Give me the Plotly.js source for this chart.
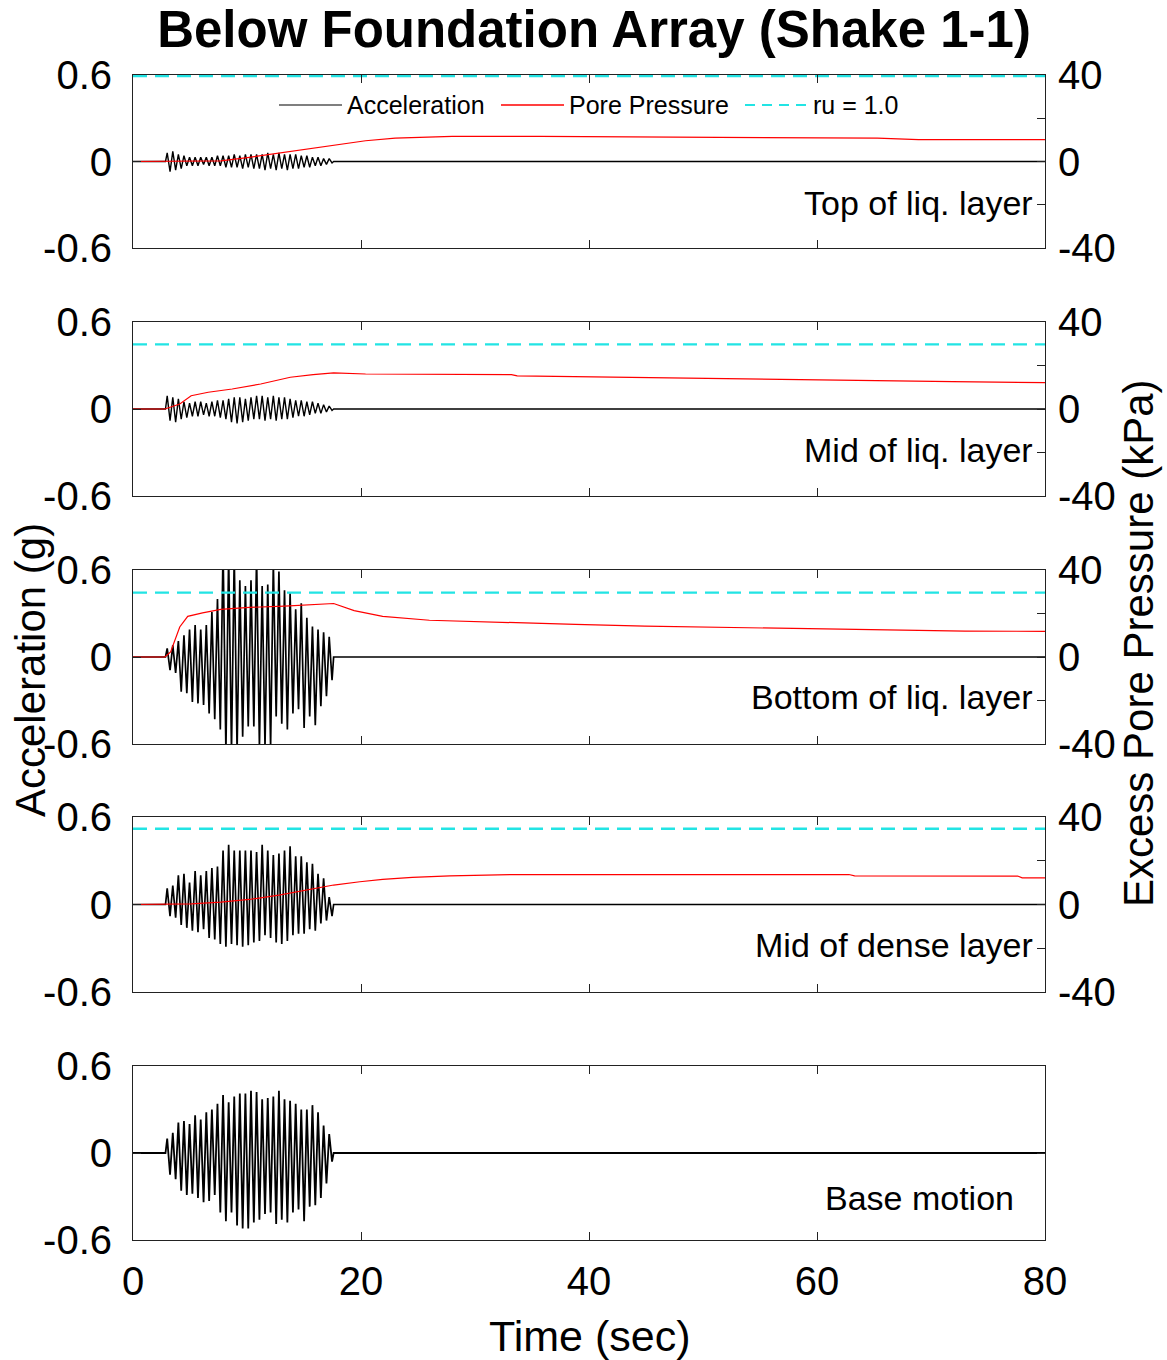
<!DOCTYPE html>
<html>
<head>
<meta charset="utf-8">
<script src="https://cdn.plot.ly/plotly-3.0.1.min.js"></script>
<style>html,body{margin:0;padding:0;background:#fff;}#chart{width:1167px;height:1360px;}</style>
</head>
<body>
<div id="chart"></div>
<script>
// ---------------- DATA ----------------
const panelLabels = ["Top of liq. layer", "Mid of liq. layer", "Bottom of liq. layer", "Mid of dense layer", "Base motion"];
const xTicks = [0, 20, 40, 60, 80];
const accTicks = [-0.6, 0, 0.6];
const accTickText = ["-0.6", "0", "0.6"];
const ppTicks = [-40, -20, 0, 20, 40];
const ppTickText = ["-40", "", "0", "", "40"];
const legendNames = ["Acceleration", "Pore Pressure", "ru = 1.0"];

// times of acceleration peaks (s), alternating positive / negative peaks
const peakTimes = [3.00,3.25,3.49,3.74,3.98,4.23,4.47,4.72,4.96,5.21,
                   5.45,5.70,5.94,6.19,6.43,6.68,6.92,7.17,7.41,7.66,
                   7.90,8.15,8.39,8.64,8.88,9.13,9.37,9.62,9.86,10.11,
                   10.35,10.60,10.84,11.09,11.33,11.58,11.82,12.07,12.31,12.56,
                   12.80,13.05,13.29,13.54,13.78,14.03,14.27,14.52,14.76,15.01,
                   15.25,15.50,15.74,15.99,16.23,16.48,16.72,16.97,17.21,17.46];
const quietBefore = [0, 2.85];
const quietAfter = [17.6, 80];

// acceleration peaks (g) per cycle
const accTopPos = [0.06,0.07,0.05,0.04,0.03,0.03,0.03,0.03,0.03,0.04,0.04,0.04,0.05,0.04,0.05,0.05,0.05,0.05,0.06,0.05,0.06,0.05,0.05,0.05,0.04,0.04,0.03,0.03,0.02,0.02];
const accTopNeg = [-0.07,-0.06,-0.05,-0.03,-0.03,-0.03,-0.02,-0.03,-0.03,-0.03,-0.04,-0.04,-0.04,-0.05,-0.04,-0.05,-0.05,-0.06,-0.05,-0.06,-0.05,-0.06,-0.05,-0.05,-0.04,-0.04,-0.03,-0.03,-0.02,-0.01];
const accMidPos = [0.09,0.08,0.07,0.05,0.04,0.05,0.05,0.04,0.05,0.06,0.06,0.07,0.08,0.08,0.07,0.08,0.09,0.09,0.08,0.09,0.08,0.08,0.07,0.06,0.06,0.05,0.05,0.04,0.03,0.02];
const accMidNeg = [-0.08,-0.09,-0.07,-0.06,-0.05,-0.05,-0.04,-0.05,-0.05,-0.06,-0.07,-0.09,-0.10,-0.09,-0.08,-0.07,-0.07,-0.08,-0.07,-0.08,-0.07,-0.07,-0.06,-0.05,-0.05,-0.04,-0.03,-0.03,-0.02,-0.01];
const accBotPos = [0.06,0.08,0.11,0.15,0.19,0.22,0.19,0.22,0.31,0.40,0.75,0.70,0.70,0.53,0.49,0.53,0.70,0.49,0.50,0.65,0.59,0.46,0.44,0.33,0.37,0.27,0.21,0.19,0.17,0.14];
const accBotNeg = [-0.09,-0.11,-0.24,-0.25,-0.31,-0.32,-0.33,-0.39,-0.43,-0.50,-0.65,-0.65,-0.65,-0.55,-0.48,-0.48,-0.62,-0.62,-0.62,-0.41,-0.46,-0.50,-0.39,-0.36,-0.49,-0.41,-0.47,-0.34,-0.27,-0.16];
const accDensePos = [0.11,0.13,0.20,0.21,0.15,0.23,0.20,0.23,0.25,0.26,0.37,0.41,0.37,0.37,0.37,0.37,0.36,0.41,0.37,0.34,0.35,0.37,0.40,0.33,0.33,0.29,0.28,0.21,0.18,0.05];
const accDenseNeg = [-0.08,-0.09,-0.14,-0.16,-0.18,-0.19,-0.17,-0.23,-0.24,-0.27,-0.29,-0.27,-0.28,-0.29,-0.28,-0.26,-0.25,-0.21,-0.23,-0.26,-0.27,-0.25,-0.21,-0.20,-0.20,-0.17,-0.18,-0.13,-0.11,-0.08];
const accBasePos = [0.10,0.14,0.21,0.22,0.20,0.26,0.23,0.28,0.30,0.34,0.40,0.35,0.39,0.41,0.41,0.43,0.42,0.37,0.38,0.39,0.43,0.37,0.36,0.34,0.30,0.30,0.33,0.28,0.19,0.13];
const accBaseNeg = [-0.15,-0.18,-0.26,-0.29,-0.28,-0.31,-0.34,-0.33,-0.29,-0.41,-0.47,-0.41,-0.50,-0.52,-0.52,-0.48,-0.46,-0.42,-0.41,-0.49,-0.46,-0.48,-0.41,-0.39,-0.47,-0.37,-0.36,-0.31,-0.21,-0.06];

// excess pore pressure (kPa)
const ppTopT = [0, 5, 7.7, 10.2, 12.8, 15.3, 17.9, 20.4, 23, 28, 35.7, 47.4, 65.3, 68.9, 80];
const ppTop  = [0, 0, 0.3, 1.9, 3.9, 5.7, 7.8, 9.6, 10.8, 11.6, 11.6, 11.3, 10.8, 10.1, 10.1];
const ppMidT = [0, 2.8, 4.1, 5.1, 6.6, 8.7, 11.2, 13.8, 15.8, 17.6, 20.4, 33.2, 33.7, 41.3, 49.7, 60.2, 71.9, 80];
const ppMid  = [0, 0, 2.3, 6.1, 7.7, 9.2, 11.5, 14.6, 15.8, 16.6, 16.1, 15.8, 15.2, 14.6, 14.1, 13.4, 12.6, 12.1];
const ppBotT = [0, 2.8, 3.3, 4.1, 4.8, 6.1, 7.7, 10.2, 13.3, 15.3, 17.6, 19.4, 21.9, 26, 32.7, 38.8, 44.9, 52.6, 62.8, 73, 80];
const ppBot  = [0, 0, 2.3, 13.8, 18.7, 20.3, 21.9, 22.8, 23.4, 23.8, 24.6, 21.3, 18.7, 16.9, 15.8, 15.0, 14.2, 13.5, 12.7, 11.9, 11.8];
const ppDenseT = [0, 3, 5.1, 7.7, 10.2, 12.8, 15.3, 17.6, 19.9, 21.9, 24.5, 27.8, 33.4, 62.8, 63.3, 77.6, 78, 80];
const ppDense  = [0, 0, 0.3, 1.1, 2.3, 4.3, 6.6, 8.9, 10.4, 11.5, 12.4, 13.1, 13.7, 13.7, 13.1, 13.0, 12.2, 12.2];

// ru = 1.0 level (kPa) per layer
const ruLevel = [39.5, 29.7, 29.6, 34.6];
const ruSpan = [0, 80];

// ---------------- BUILD ----------------
const W = 1167, H = 1360;
const FONT = "Liberation Sans, Arial, sans-serif";
const panelPx = [[75, 248], [322, 496], [570, 744], [817, 992], [1066, 1240]];
const xDom = [133 / W, 1045 / W];

function interleave(pos, neg) {
  const out = [];
  for (let i = 0; i < pos.length; i++) { out.push(pos[i]); out.push(neg[i]); }
  return out;
}
const accT = quietBefore.concat(peakTimes, quietAfter);
const accPairs = [[accTopPos, accTopNeg], [accMidPos, accMidNeg], [accBotPos, accBotNeg], [accDensePos, accDenseNeg], [accBasePos, accBaseNeg]];
const ppSets = [[ppTopT, ppTop], [ppMidT, ppMid], [ppBotT, ppBot], [ppDenseT, ppDense]];
const accWidth = [1.4, 1.4, 1.7, 1.7, 1.8];

const traces = [];
const layout = {
  width: W, height: H,
  margin: {l: 0, r: 0, t: 0, b: 0},
  paper_bgcolor: "#fff", plot_bgcolor: "#fff",
  showlegend: false,
  font: {family: FONT, color: "#000"},
  title: {text: "<b>Below Foundation Array (Shake 1-1)</b>", font: {family: FONT, size: 51, color: "#000"},
          x: 594 / W, xanchor: "center", y: 1 - 29 / H, yanchor: "middle"},
  annotations: [], shapes: []
};

for (let p = 0; p < 5; p++) {
  const n = p + 1;
  const xa = "x" + n, ya = "y" + n;
  const yDom = [1 - panelPx[p][1] / H, 1 - panelPx[p][0] / H];
  const zeros = [0, 0];
  const accY = zeros.concat(interleave(accPairs[p][0], accPairs[p][1]), zeros);
  traces.push({x: accT, y: accY, xaxis: xa, yaxis: ya, type: "scatter", mode: "lines",
               name: legendNames[0], line: {color: "#000", width: accWidth[p]}});
  layout["xaxis" + n] = {
    domain: xDom, anchor: ya, range: [0, 80], tickvals: xTicks,
    showticklabels: p === 4, ticks: "inside", ticklen: 8, tickcolor: "#222",
    showline: true, linecolor: "#222", linewidth: 1, mirror: "ticks",
    showgrid: false, zeroline: false, fixedrange: true,
    tickfont: {family: FONT, size: 40, color: "#000"}, ticklabelstandoff: 6
  };
  layout["yaxis" + n] = {
    domain: yDom, anchor: xa, range: [-0.6, 0.6], tickvals: accTicks, ticktext: accTickText,
    ticks: "inside", ticklen: 8, tickcolor: "#222",
    showline: true, linecolor: "#222", linewidth: 1, mirror: "ticks",
    showgrid: false, zeroline: false, fixedrange: true,
    tickfont: {family: FONT, size: 40, color: "#000"}, ticklabelstandoff: 12
  };
  if (p < 4) {
    const yr = "y" + (n + 5);
    layout["yaxis" + (n + 5)] = {
      overlaying: ya, anchor: xa, side: "right", range: [-40, 40],
      tickvals: ppTicks, ticktext: ppTickText, ticks: "inside", ticklen: 8, tickcolor: "#222",
      showline: false, showgrid: false, zeroline: false, fixedrange: true,
      tickfont: {family: FONT, size: 40, color: "#000"}, ticklabelstandoff: 12
    };
    traces.push({x: ppSets[p][0], y: ppSets[p][1], xaxis: xa, yaxis: yr, type: "scatter", mode: "lines",
                 name: legendNames[1], line: {color: "#ff0000", width: 1.2}});
    traces.push({x: ruSpan, y: [ruLevel[p], ruLevel[p]], xaxis: xa, yaxis: yr, type: "scatter", mode: "lines",
                 name: legendNames[2], line: {color: "#22e4e4", width: 2.4, dash: "14px,8px"}});
  }
  // panel label
  const labelRight = p === 4 ? 1016 : 1035;
  const labelY = [203, 450, 697, 945, 1198][p];
  layout.annotations.push({text: panelLabels[p], xref: "paper", yref: "paper",
    x: labelRight / W, y: 1 - labelY / H, xanchor: "right", yanchor: "middle", showarrow: false,
    font: {family: FONT, size: 34, color: "#000"}});
}

// axis titles
layout.annotations.push({text: "Acceleration (g)", xref: "paper", yref: "paper", x: 30 / W, y: 1 - 670 / H,
  textangle: -90, xanchor: "center", yanchor: "middle", showarrow: false, font: {family: FONT, size: 42, color: "#000"}});
layout.annotations.push({text: "Excess Pore Pressure (kPa)", xref: "paper", yref: "paper", x: 1138 / W, y: 1 - 643 / H,
  textangle: -90, xanchor: "center", yanchor: "middle", showarrow: false, font: {family: FONT, size: 42, color: "#000"}});
layout.annotations.push({text: "Time (sec)", xref: "paper", yref: "paper", x: 589 / W, y: 1 - 1336 / H,
  xanchor: "center", yanchor: "middle", showarrow: false, font: {family: FONT, size: 43, color: "#000"}});

// custom legend (line samples + labels) in top panel
const legY = 1 - 105 / H;
const legItems = [
  {x0: 279, x1: 342, tx: 345, color: "#000", width: 1.2, dash: "solid"},
  {x0: 501, x1: 564, tx: 567, color: "#ff0000", width: 1.5, dash: "solid"},
  {x0: 745, x1: 808, tx: 811, color: "#22e4e4", width: 2, dash: "10px,7px"}
];
legItems.forEach((it, i) => {
  layout.shapes.push({type: "line", xref: "paper", yref: "paper", x0: it.x0 / W, x1: it.x1 / W, y0: legY, y1: legY,
    line: {color: it.color, width: it.width, dash: it.dash}});
  layout.annotations.push({text: legendNames[i], xref: "paper", yref: "paper", x: it.tx / W, y: legY,
    xanchor: "left", yanchor: "middle", showarrow: false, font: {family: FONT, size: 25, color: "#000"}});
});

Plotly.newPlot("chart", traces, layout, {staticPlot: true, displayModeBar: false});
</script>
</body>
</html>
